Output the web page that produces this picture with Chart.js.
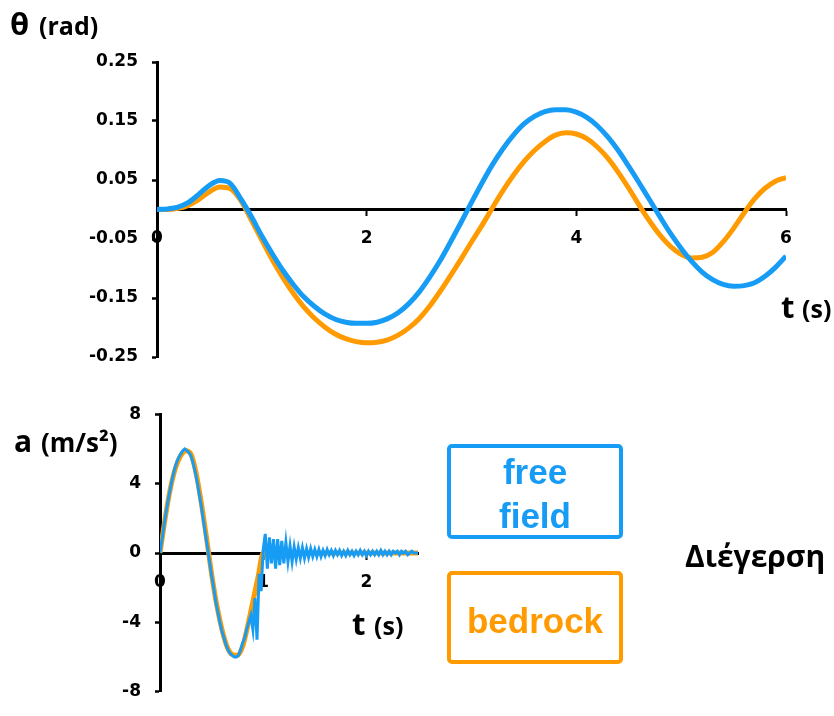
<!DOCTYPE html>
<html>
<head>
<meta charset="utf-8">
<title>Rocking response</title>
<script src="https://cdn.jsdelivr.net/npm/chart.js@4.4.0/dist/chart.umd.min.js"></script>
<style>
  body { margin: 0; background: #fff; }
  #wrap { position: relative; width: 834px; height: 716px; overflow: hidden; }
  #wrap canvas { position: absolute; left: 0; }
</style>
</head>
<body>
<div id="wrap">
  <canvas id="thetaChart" width="834" height="385" style="top:0"></canvas>
  <canvas id="accChart" width="834" height="326" style="top:390px"></canvas>
</div>
<script>
// ---- rotation theta (rad) vs time, sampled every 0.1 s ----
var tTheta = [
  0.0, 0.1, 0.2, 0.3, 0.4, 0.5, 0.6, 0.7, 0.8, 0.9,
  1.0, 1.1, 1.2, 1.3, 1.4, 1.5, 1.6, 1.7, 1.8, 1.9,
  2.0, 2.1, 2.2, 2.3, 2.4, 2.5, 2.6, 2.7, 2.8, 2.9,
  3.0, 3.1, 3.2, 3.3, 3.4, 3.5, 3.6, 3.7, 3.8, 3.9,
  4.0, 4.1, 4.2, 4.3, 4.4, 4.5, 4.6, 4.7, 4.8, 4.9,
  5.0, 5.1, 5.2, 5.3, 5.4, 5.5, 5.6, 5.7, 5.8, 5.9,
  6.0
];
var thetaFreeField = [
  0, 0.001, 0.004, 0.012, 0.026, 0.041, 0.049, 0.044, 0.018, -0.012,
  -0.045, -0.075, -0.103, -0.127, -0.148, -0.164, -0.177, -0.186, -0.191, -0.193,
  -0.193, -0.191, -0.185, -0.175, -0.160, -0.140, -0.115, -0.087, -0.055, -0.022,
  0.012, 0.045, 0.076, 0.103, 0.126, 0.145, 0.158, 0.166, 0.169, 0.169,
  0.165, 0.156, 0.142, 0.123, 0.100, 0.073, 0.045, 0.016, -0.013, -0.041,
  -0.066, -0.088, -0.106, -0.119, -0.127, -0.130, -0.129, -0.124, -0.113, -0.098,
  -0.079
];
var thetaBedrock = [
  0, 0.000, 0.002, 0.007, 0.017, 0.030, 0.038, 0.035, 0.015, -0.018,
  -0.052, -0.085, -0.115, -0.142, -0.165, -0.184, -0.199, -0.211, -0.219, -0.224,
  -0.226, -0.225, -0.221, -0.213, -0.201, -0.185, -0.164, -0.139, -0.112, -0.084,
  -0.055, -0.027, 0.003, 0.032, 0.058, 0.081, 0.100, 0.115, 0.126, 0.130,
  0.128, 0.120, 0.106, 0.087, 0.063, 0.036, 0.007, -0.020, -0.044, -0.063,
  -0.076, -0.082, -0.081, -0.073, -0.055, -0.032, -0.006, 0.018, 0.036, 0.048,
  0.054
];
var thetaTicks = [-0.25, -0.15, -0.05, 0.05, 0.15, 0.25];
var tThetaTicks = [0, 2, 4, 6];

// ---- excitation a (m/s2) ----
var tBedrock = [
  0.0, 0.05, 0.1, 0.15, 0.2, 0.25, 0.3, 0.35, 0.4, 0.45,
  0.5, 0.55, 0.6, 0.65, 0.7, 0.75, 0.8, 0.85, 0.9, 0.95,
  1.0, 1.5, 2.0, 2.5
];
var accBedrock = [
  0, 2.0, 3.7, 4.9, 5.6, 5.9, 5.7, 4.6, 2.9, 0.9,
  -1.2, -3.0, -4.4, -5.4, -5.85, -5.9, -5.4, -4.2, -2.8, -1.4,
  0, 0, 0, 0
];
var tFree = [
  0.00, 0.02, 0.04, 0.06, 0.08, 0.10, 0.12, 0.14, 0.16, 0.18,
  0.20, 0.22, 0.24, 0.26, 0.28, 0.30, 0.32, 0.34, 0.36, 0.38,
  0.40, 0.42, 0.44, 0.46, 0.48, 0.50, 0.52, 0.54, 0.56, 0.58,
  0.60, 0.62, 0.64, 0.66, 0.68, 0.70, 0.72, 0.74, 0.76, 0.78,
  0.80, 0.82, 0.84, 0.86, 0.88, 0.90, 0.92, 0.94, 0.96, 0.98,
  1.00, 1.02, 1.04, 1.06, 1.08, 1.10, 1.12, 1.14, 1.16, 1.18,
  1.20, 1.22, 1.24, 1.26, 1.28, 1.30, 1.32, 1.34, 1.36, 1.38,
  1.40, 1.42, 1.44, 1.46, 1.48, 1.50, 1.52, 1.54, 1.56, 1.58,
  1.60, 1.62, 1.64, 1.66, 1.68, 1.70, 1.72, 1.74, 1.76, 1.78,
  1.80, 1.82, 1.84, 1.86, 1.88, 1.90, 1.92, 1.94, 1.96, 1.98,
  2.00, 2.02, 2.04, 2.06, 2.08, 2.10, 2.12, 2.14, 2.16, 2.18,
  2.20, 2.22, 2.24, 2.26, 2.28, 2.30, 2.32, 2.34, 2.36, 2.38,
  2.40, 2.42, 2.44, 2.46, 2.48, 2.50
];
var accFree = [
  0, 0.8, 1.6, 2.4, 3.1, 3.7, 4.3, 4.8, 5.2, 5.5,
  5.7, 5.9, 6.0, 5.9, 5.8, 5.6, 5.2, 4.7, 4.1, 3.4,
  2.7, 1.9, 1.1, 0.3, -0.5, -1.3, -2.0, -2.8, -3.4, -4.0,
  -4.5, -4.9, -5.3, -5.6, -5.8, -5.9, -6.0, -6.0, -5.9, -5.6,
  -5.2, -4.9, -4.4, -4.0, -3.6, -4.4, -2.6, -5.0, -1.2, -2.2,
  0.2, 1.1, -0.9, 0.9, -0.6, 0.8, -0.9, 0.8, -0.7, 0.7,
  -0.6, 0.6, -0.5, 0.4, -0.5, 0.35, -0.35, 0.3, -0.3, 0.3,
  -0.3, 0.25, -0.25, 0.25, -0.2, 0.2, -0.2, 0.2, -0.2, 0.15,
  -0.15, 0.2, -0.1, 0.15, -0.15, 0.15, -0.1, 0.15, -0.15, 0.1,
  -0.15, 0.15, -0.1, 0.1, -0.15, 0.1, -0.1, 0.15, -0.1, 0.1,
  -0.15, 0.1, -0.1, 0.1, -0.1, 0.1, -0.1, 0.15, -0.1, 0.1,
  -0.1, 0.1, -0.1, 0.1, 0, 0.1, -0.1, 0.1, 0, 0.1,
  -0.1, 0, 0.1, 0, 0, 0
];
var accTicks = [-8, -4, 0, 4, 8];
var tAccTicks = [0, 1, 2];

var BLUE = '#179cf6';
var ORANGE = '#ff9b00';

function pts(xs, ys) {
    return xs.map(function (x, i) { return { x: x, y: ys[i] }; });
}

// plain text / frame overlay drawn after the chart
var notes = {
    id: 'notes',
    afterDraw: function (chart, args, opts) {
        var ctx = chart.ctx;
        ctx.save();
        (opts.frames || []).forEach(function (f) {
            ctx.strokeStyle = f.color;
            ctx.lineWidth = 4;
            ctx.beginPath();
            ctx.roundRect(f.x, f.y, f.w, f.h, 3);
            ctx.stroke();
        });
        (opts.texts || []).forEach(function (t) {
            ctx.font = t.font;
            ctx.fillStyle = t.color || '#000';
            ctx.textAlign = t.align || 'left';
            ctx.textBaseline = 'alphabetic';
            ctx.fillText(t.text, t.x, t.y);
        });
        ctx.restore();
    }
};

var tickFont = { family: 'DejaVu Sans', size: 17, weight: 'bold' };
var TITLE = 'bold 31px "Open Sans"';
var UNIT = 'bold 25px "Open Sans"';
var BOX = 'bold 35px "Liberation Sans"';

function axisX(min, max, tickList) {
    return {
        type: 'linear',
        min: min,
        max: max,
        position: { y: 0 },
        afterBuildTicks: function (scale) {
            scale.ticks = tickList.map(function (v) { return { value: v }; });
        },
        border: { display: true, color: '#000', width: 3 },
        grid: { drawOnChartArea: false, drawTicks: true, tickLength: 5, tickWidth: 2, color: '#000' },
        ticks: { color: '#000', font: tickFont, padding: 14, maxRotation: 0, autoSkip: false },
    };
}

function axisY(min, max, tickList, width, fmt) {
    return {
        type: 'linear',
        min: min,
        max: max,
        afterBuildTicks: function (scale) {
            scale.ticks = tickList.map(function (v) { return { value: v }; });
        },
        afterFit: function (scale) { scale.width = width; },
        border: { display: true, color: '#000', width: 3 },
        grid: { drawOnChartArea: false, drawTicks: true, tickLength: 5, tickWidth: 2.5, color: '#000' },
        ticks: { color: '#000', font: tickFont, padding: 14, callback: fmt },
    };
}

//========================= theta chart =========================
new Chart(document.getElementById('thetaChart').getContext('2d'), {
    type: 'line',
    data: {
        datasets: [{
            label: 'free field',
            data: pts(tTheta, thetaFreeField),
            borderColor: BLUE,
            borderWidth: 5,
            pointRadius: 0,
            cubicInterpolationMode: 'monotone',
        }, {
            label: 'bedrock',
            data: pts(tTheta, thetaBedrock),
            borderColor: ORANGE,
            borderWidth: 5,
            pointRadius: 0,
            cubicInterpolationMode: 'monotone',
        }],
    },
    options: {
        responsive: false,
        animation: false,
        layout: { padding: { top: 62, right: 48, bottom: 28, left: 0 } },
        scales: {
            x: axisX(0, 6, tThetaTicks),
            y: axisY(-0.25, 0.25, thetaTicks, 157, function (v) { return v.toFixed(2); }),
        },
        plugins: {
            legend: { display: false },
            tooltip: { enabled: false },
            notes: {
                texts: [
                    { text: 'θ', x: 10, y: 35, font: TITLE },
                    { text: '(rad)', x: 39, y: 35, font: UNIT },
                    { text: 't', x: 781, y: 318, font: TITLE },
                    { text: '(s)', x: 802, y: 318, font: UNIT },
                ],
            },
        },
    },
    plugins: [notes],
});

//========================= excitation chart =========================
new Chart(document.getElementById('accChart').getContext('2d'), {
    type: 'line',
    data: {
        datasets: [{
            label: 'free field',
            data: pts(tFree, accFree),
            borderColor: BLUE,
            borderWidth: 3,
            pointRadius: 0,
            tension: 0,
        }, {
            label: 'bedrock',
            data: pts(tBedrock, accBedrock),
            borderColor: ORANGE,
            borderWidth: 5,
            pointRadius: 0,
            cubicInterpolationMode: 'monotone',
        }],
    },
    options: {
        responsive: false,
        animation: false,
        layout: { padding: { top: 23, right: 416, bottom: 10, left: 0 } },
        scales: {
            x: axisX(0, 2.5, tAccTicks),
            y: axisY(-8, 8, accTicks, 160, function (v) { return String(v); }),
        },
        plugins: {
            legend: { display: false },
            tooltip: { enabled: false },
            notes: {
                frames: [
                    { x: 449, y: 56, w: 172, h: 91, color: BLUE },
                    { x: 449, y: 183, w: 172, h: 89, color: ORANGE },
                ],
                texts: [
                    { text: 'a', x: 14, y: 62, font: 'bold 30px "Open Sans"' },
                    { text: '(m/s²)', x: 41, y: 62, font: 'bold 26px "Open Sans"' },
                    { text: 't', x: 352, y: 245, font: TITLE },
                    { text: '(s)', x: 374, y: 245, font: UNIT },
                    { text: 'free', x: 535, y: 94, font: BOX, color: BLUE, align: 'center' },
                    { text: 'field', x: 535, y: 138, font: BOX, color: BLUE, align: 'center' },
                    { text: 'bedrock', x: 535, y: 243, font: BOX, color: ORANGE, align: 'center' },
                    { text: 'Διέγερση', x: 685, y: 177, font: 'bold 30px "Open Sans"' },
                ],
            },
        },
    },
    plugins: [notes],
});
</script>
</body>
</html>
